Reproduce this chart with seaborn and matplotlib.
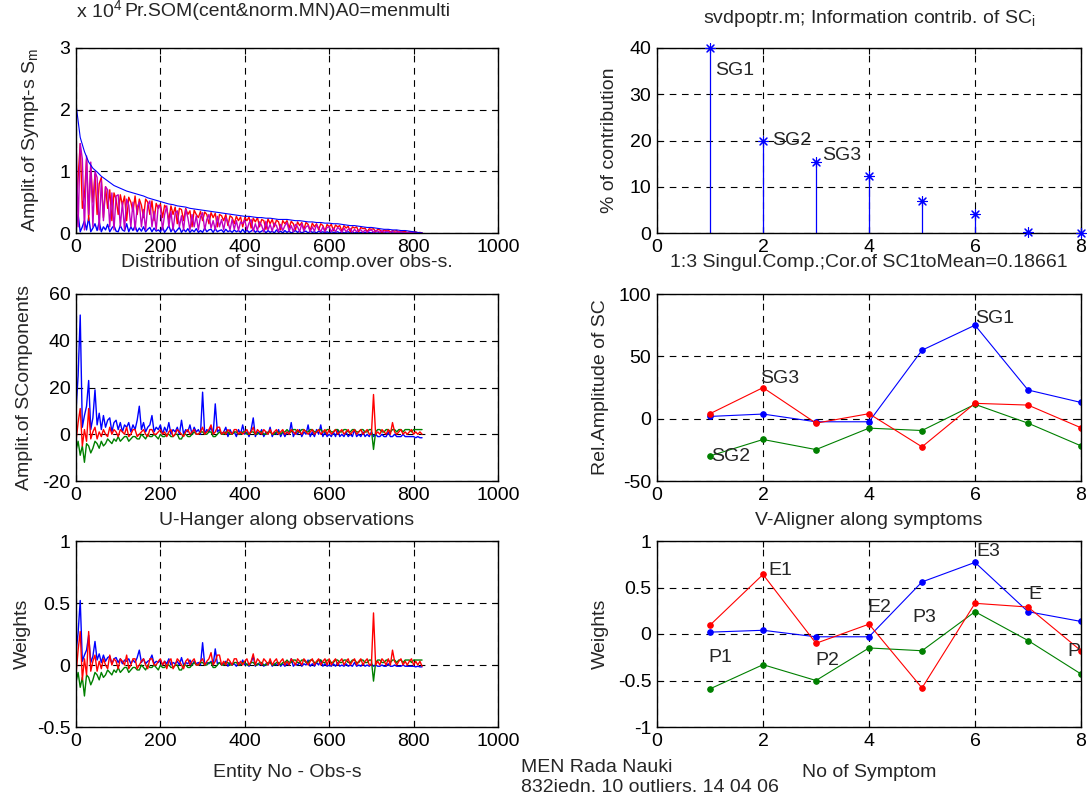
import numpy as np
import matplotlib
matplotlib.use("Agg")
import matplotlib.pyplot as plt
import matplotlib.ticker as mtick
import seaborn as sns

# entity numbers: every 5th observation for the noisy traces,
# every 10th for the smooth envelope
obs = np.arange(0, 825, 5)
obs10 = np.arange(0, 830, 10)

# --- top left: amplitude of symptoms (x 10^4) ---
sympt_env = [2.09, 1.55, 1.32, 1.15, 1.05, 0.99, 0.92, 0.87, 0.82, 0.77,
             0.74, 0.71, 0.68, 0.66, 0.64, 0.62, 0.60, 0.57, 0.55, 0.53,
             0.51, 0.49, 0.47, 0.46, 0.44, 0.43, 0.42, 0.40, 0.39, 0.38,
             0.37, 0.36, 0.35, 0.34, 0.33, 0.32, 0.31, 0.30, 0.29, 0.28,
             0.27, 0.27, 0.26, 0.25, 0.25, 0.24, 0.24, 0.23, 0.22, 0.22,
             0.22, 0.21, 0.20, 0.20, 0.19, 0.18, 0.18, 0.17, 0.17, 0.16,
             0.16, 0.15, 0.15, 0.14, 0.13, 0.12, 0.12, 0.11, 0.10, 0.09,
             0.09, 0.08, 0.07, 0.06, 0.06, 0.05, 0.05, 0.04, 0.04, 0.03,
             0.02, 0.01, 0.00]
sympt_blue = [0.05, 0.30, 0.02, 0.10, 0.20, 0.05, 0.25, 0.02, 0.08, 0.15, 0.04, 0.18, 0.02, 0.10, 0.05, 0.14, 0.02, 0.08, 0.12, 0.03,
              0.02, 0.12, 0.05, 0.03, 0.15, 0.02, 0.10, 0.04, 0.12, 0.02, 0.08, 0.03, 0.10, 0.02, 0.06, 0.09, 0.02, 0.08, 0.03, 0.05,
              0.02, 0.10, 0.01, 0.06, 0.12, 0.02, 0.08, 0.01, 0.05, 0.09, 0.01, 0.06, 0.02, 0.07, 0.01, 0.05, 0.02, 0.07, 0.01, 0.04,
              0.01, 0.08, 0.02, 0.05, 0.06, 0.01, 0.07, 0.02, 0.04, 0.05, 0.01, 0.06, 0.02, 0.04, 0.01, 0.05, 0.02, 0.04, 0.01, 0.06,
              0.01, 0.05, 0.01, 0.03, 0.06, 0.01, 0.04, 0.01, 0.03, 0.05, 0.00, 0.04, 0.01, 0.03, 0.00, 0.05, 0.01, 0.03, 0.00, 0.04,
              0.01, 0.03, 0.00, 0.02, 0.04, 0.01, 0.03, 0.00, 0.02, 0.03, 0.00, 0.03, 0.01, 0.02, 0.00, 0.03, 0.01, 0.02, 0.00, 0.02,
              0.00, 0.02, 0.01, 0.01, 0.02, 0.00, 0.02, 0.00, 0.01, 0.02, 0.00, 0.01, 0.00, 0.01, 0.00, 0.01, 0.00, 0.01, 0.00, 0.01,
              0.00, 0.01, 0.00, 0.00, 0.01, 0.00, 0.01, 0.00, 0.00, 0.01, 0.00, 0.00, 0.00, 0.00, 0.00, 0.00, 0.00, 0.00, 0.00, 0.00,
              0.00, 0.00, 0.00, 0.00, 0.00]
sympt_red = [0.30, 0.90, 1.45, 0.40, 0.60, 1.20, 0.20, 1.10, 0.50, 0.95, 0.30, 0.80, 0.90, 0.25, 0.75, 0.40, 0.70, 0.20, 0.65, 0.55,
             0.30, 0.62, 0.45, 0.60, 0.20, 0.58, 0.50, 0.35, 0.60, 0.30, 0.55, 0.45, 0.25, 0.55, 0.50, 0.30, 0.52, 0.20, 0.48, 0.40,
             0.47, 0.25, 0.45, 0.40, 0.20, 0.44, 0.30, 0.42, 0.15, 0.40, 0.38, 0.20, 0.40, 0.30, 0.36, 0.10, 0.37, 0.30, 0.25, 0.35,
             0.20, 0.34, 0.30, 0.15, 0.33, 0.25, 0.32, 0.10, 0.30, 0.28, 0.20, 0.30, 0.12, 0.28, 0.25, 0.15, 0.27, 0.20, 0.26, 0.10,
             0.25, 0.20, 0.26, 0.08, 0.24, 0.18, 0.25, 0.10, 0.22, 0.20, 0.06, 0.23, 0.15, 0.22, 0.10, 0.21, 0.18, 0.05, 0.20, 0.15,
             0.20, 0.08, 0.19, 0.15, 0.05, 0.18, 0.12, 0.17, 0.06, 0.17, 0.14, 0.04, 0.16, 0.10, 0.15, 0.05, 0.15, 0.12, 0.03, 0.14,
             0.10, 0.14, 0.04, 0.13, 0.10, 0.12, 0.03, 0.12, 0.08, 0.11, 0.02, 0.10, 0.08, 0.10, 0.02, 0.09, 0.07, 0.08, 0.02, 0.07,
             0.06, 0.07, 0.02, 0.06, 0.05, 0.01, 0.05, 0.04, 0.05, 0.01, 0.04, 0.03, 0.04, 0.01, 0.03, 0.02, 0.03, 0.00, 0.02, 0.02,
             0.01, 0.02, 0.00, 0.01, 0.00]
sympt_mag = [1.60, 0.10, 1.45, 1.20, 0.05, 1.25, 0.30, 1.15, 0.10, 1.00, 0.90, 0.05, 0.85, 0.20, 0.75, 0.70, 0.10, 0.65, 0.05, 0.60,
             0.62, 0.10, 0.50, 0.05, 0.55, 0.45, 0.10, 0.50, 0.05, 0.42, 0.50, 0.10, 0.38, 0.05, 0.45, 0.52, 0.10, 0.35, 0.05, 0.45,
             0.42, 0.05, 0.30, 0.44, 0.10, 0.35, 0.05, 0.32, 0.36, 0.10, 0.28, 0.05, 0.38, 0.25, 0.05, 0.30, 0.10, 0.28, 0.05, 0.26,
             0.33, 0.05, 0.22, 0.30, 0.08, 0.20, 0.05, 0.27, 0.10, 0.22, 0.05, 0.25, 0.18, 0.05, 0.22, 0.06, 0.20, 0.04, 0.18, 0.15,
             0.21, 0.05, 0.16, 0.22, 0.03, 0.15, 0.04, 0.18, 0.12, 0.02, 0.19, 0.05, 0.14, 0.03, 0.16, 0.12, 0.02, 0.14, 0.04, 0.12,
             0.17, 0.03, 0.12, 0.02, 0.14, 0.10, 0.02, 0.15, 0.03, 0.10, 0.12, 0.02, 0.10, 0.03, 0.13, 0.08, 0.02, 0.10, 0.02, 0.09,
             0.10, 0.02, 0.08, 0.02, 0.09, 0.06, 0.01, 0.08, 0.02, 0.06, 0.07, 0.01, 0.06, 0.02, 0.05, 0.05, 0.01, 0.05, 0.01, 0.04,
             0.05, 0.01, 0.04, 0.03, 0.01, 0.04, 0.01, 0.03, 0.02, 0.01, 0.03, 0.00, 0.02, 0.01, 0.02, 0.01, 0.00, 0.01, 0.00, 0.01,
             0.01, 0.00, 0.00, 0.00, 0.00]

# --- middle left: singular components over observations ---
sc_blue = [10, 25, 51, 3, 8, 12, 23, 2, 7, 19, 4, 9, 2, 8, 3, 6, 7, 1, 5, 6,
           2, 5, 1, 4, 3, 5, 1, 4, 2, 6, 12, 2, 5, 1, 3, 4, 8, 1, 3, 2,
           4, 0, 3, 1, 5, 0, 2, 1, 3, 0, 6, 0, 2, 1, 4, 0, 3, 1, 2, 0,
           18, 0, 2, 1, 3, 0, 13, 1, 2, 0, 1, 3, -1, 2, 0, 1, -1, 2, 0, 4,
           0, 1, -1, 2, 7, -1, 1, 0, 2, -1, 1, 0, 3, -1, 1, 0, 2, -1, 1, -1,
           1, 0, 5, -1, 1, 0, 2, -1, 1, 0, 4, -1, 1, -1, 2, 0, 4, -1, 1, -1,
           0, -1, 1, -1, 2, -1, 0, -1, 1, -1, 0, -1, 2, -1, 0, -1, 1, -1, 0, -1,
           1, -1, 0, -1, -1, 0, -1, -1, 1, -1, -1, 0, -1, -1, -1, 0, -1, -1, -1, -1,
           -1, -1.5, -1, -1.5, -1.5]
sc_green = [-7, -3, -9, -5, -12, -4, -5, -8, -6, -3, -4, -6, -3, -5, -4, -2, -3, -4, -2, -3,
            -1, -3, -2, -1, -1, -3, -2, -1, -1, -2, -2, 0, -1, -2, 0, -1, -1, 0, -1, -2,
            0, -1, -1, 0, 0, -1, -1, 0, 0, -2, -2, 0, 0, -1, -1, 0, 1, 0, 0, 1,
            1, 0, 0, 1, 1, -1, -1, 0, 1, 0, 0, 1, 1, 0, 0, 1, 1, 0, 0, 1,
            1, 0, 0, 1, 1, 0, 0, 1, 1, 0, 0, 1, 1, 0, 0, 1, 1, 0, 1, 1,
            2, 1, 1, 2, 2, 1, 1, 2, 2, 1, 1, 2, 2, 1, 1, 2, 2, 1, 1, 2,
            2, 1, 1, 2, 2, 1, 1, 2, 2, 1, 1, 2, 2, 1, 1, 2, 2, 1, 1, 2,
            2, -6.5, 1, 2, 2, 1, 1, 2, 2, 1, 2, 2, 1, 2, 2, 1, 2, 2, 2, 1,
            2, 2, 2, 2, 2]
sc_red = [-3, 5, 11, -5, 2, -3, 11, -2, 1, 3, -2, 1, -1, 2, 0, -1, 3, 0, 2, 1,
          -1, 2, 1, 0, 3, -1, 0, 2, 2, -1, 0, 1, 2, 0, -1, 2, 2, 0, 0, 1,
          2, 0, 1, -1, 1, 2, -1, 0, 2, 1, 0, -1, 1, 2, 0, 1, 2, 0, 0, 1,
          3, 0, 1, 2, 4, 0, 1, 3, 3, 0, 1, 0, 2, 1, 0, 2, 2, 0, 1, 0,
          1, 2, 0, 1, 3, 0, 2, 1, 0, 2, 1, 0, 2, 0, 1, 2, 0, 1, 2, 0,
          1, 0, 2, 1, 0, 2, 1, 0, 2, 1, 0, 1, 2, 0, 1, 2, 0, 1, 2, 0,
          2, 0, 1, 2, 0, 1, 2, 0, 1, 2, 0, 1, 2, 0, 1, 2, 0, 1, 2, 0,
          0, 17, 0, 1, 0, 2, 1, 0, 2, 0, 5, 1, 0, 1, 2, 0, 1, 0, 1, 2,
          0, 1, 0, 1, 0]

# --- bottom left: U-hanger weights ---
w_blue = [0.10, 0.26, 0.52, 0.03, 0.08, 0.12, 0.24, 0.02, 0.07, 0.19, 0.04, 0.09, 0.02, 0.08, 0.03, 0.06, 0.07, 0.01, 0.05, 0.06,
          0.02, 0.05, 0.01, 0.04, 0.03, 0.05, 0.01, 0.04, 0.02, 0.06, 0.12, 0.02, 0.05, 0.01, 0.03, 0.04, 0.08, 0.01, 0.03, 0.02,
          0.04, 0.00, 0.03, 0.01, 0.05, 0.00, 0.02, 0.01, 0.03, 0.00, 0.06, 0.00, 0.02, 0.01, 0.04, 0.00, 0.03, 0.01, 0.02, 0.00,
          0.18, 0.00, 0.02, 0.01, 0.03, 0.00, 0.13, 0.01, 0.02, 0.00, 0.01, 0.03, -0.01, 0.02, 0.00, 0.01, -0.01, 0.02, 0.00, 0.04,
          0.00, 0.01, -0.01, 0.02, 0.07, -0.01, 0.01, 0.00, 0.02, -0.01, 0.01, 0.00, 0.03, -0.01, 0.01, 0.00, 0.02, -0.01, 0.01, -0.01,
          0.01, 0.00, 0.05, -0.01, 0.01, 0.00, 0.02, -0.01, 0.01, 0.00, 0.04, -0.01, 0.01, -0.01, 0.02, 0.00, 0.04, -0.01, 0.01, -0.01,
          0.00, -0.01, 0.01, -0.01, 0.02, -0.01, 0.00, -0.01, 0.01, -0.01, 0.00, -0.01, 0.02, -0.01, 0.00, -0.01, 0.01, -0.01, 0.00, -0.01,
          0.01, -0.01, 0.00, -0.01, -0.01, 0.00, -0.01, -0.01, 0.01, -0.01, -0.01, 0.00, -0.01, -0.01, -0.01, 0.00, -0.01, -0.01, -0.01, -0.01,
          -0.01, -0.015, -0.01, -0.015, -0.015]
w_green = [-0.14, -0.06, -0.18, -0.10, -0.25, -0.08, -0.10, -0.16, -0.12, -0.06, -0.08, -0.12, -0.06, -0.10, -0.08, -0.04, -0.06, -0.08, -0.04, -0.06,
           -0.02, -0.06, -0.04, -0.02, -0.02, -0.06, -0.04, -0.02, -0.02, -0.04, -0.04, 0.00, -0.02, -0.04, 0.00, -0.02, -0.02, 0.00, -0.02, -0.04,
           0.00, -0.02, -0.02, 0.00, 0.00, -0.02, -0.02, 0.00, 0.00, -0.04, -0.04, 0.00, 0.00, -0.02, -0.02, 0.00, 0.02, 0.00, 0.00, 0.02,
           0.02, 0.00, 0.00, 0.02, 0.02, -0.02, -0.02, 0.00, 0.02, 0.00, 0.00, 0.02, 0.02, 0.00, 0.00, 0.02, 0.02, 0.00, 0.00, 0.02,
           0.02, 0.00, 0.00, 0.02, 0.02, 0.00, 0.00, 0.02, 0.02, 0.00, 0.00, 0.02, 0.02, 0.00, 0.00, 0.02, 0.02, 0.00, 0.02, 0.02,
           0.04, 0.02, 0.02, 0.04, 0.04, 0.02, 0.02, 0.04, 0.04, 0.02, 0.02, 0.04, 0.04, 0.02, 0.02, 0.04, 0.04, 0.02, 0.02, 0.04,
           0.04, 0.02, 0.02, 0.04, 0.04, 0.02, 0.02, 0.04, 0.04, 0.02, 0.02, 0.04, 0.04, 0.02, 0.02, 0.04, 0.04, 0.02, 0.02, 0.04,
           0.04, -0.13, 0.02, 0.04, 0.04, 0.02, 0.02, 0.04, 0.04, 0.02, 0.04, 0.04, 0.02, 0.04, 0.04, 0.02, 0.04, 0.04, 0.04, 0.02,
           0.04, 0.04, 0.04, 0.04, 0.04]
w_red = [-0.08, 0.12, 0.27, -0.12, 0.05, -0.08, 0.27, -0.05, 0.03, 0.08, -0.05, 0.03, -0.03, 0.05, 0.00, -0.03, 0.08, 0.00, 0.05, 0.03,
         -0.03, 0.05, 0.03, 0.00, 0.08, -0.03, 0.00, 0.05, 0.05, -0.03, 0.00, 0.03, 0.05, 0.00, -0.03, 0.05, 0.05, 0.00, 0.00, 0.03,
         0.05, 0.00, 0.03, -0.03, 0.03, 0.05, -0.03, 0.00, 0.05, 0.03, 0.00, -0.03, 0.03, 0.05, 0.00, 0.03, 0.05, 0.00, 0.00, 0.03,
         0.05, 0.00, 0.03, 0.05, 0.10, 0.00, 0.03, 0.08, 0.08, 0.00, 0.03, 0.00, 0.05, 0.03, 0.00, 0.05, 0.05, 0.00, 0.03, 0.00,
         0.03, 0.05, 0.00, 0.03, 0.09, 0.00, 0.05, 0.03, 0.00, 0.05, 0.03, 0.00, 0.05, 0.00, 0.03, 0.05, 0.00, 0.03, 0.05, 0.00,
         0.03, 0.00, 0.05, 0.03, 0.00, 0.05, 0.03, 0.00, 0.05, 0.03, 0.00, 0.03, 0.05, 0.00, 0.03, 0.05, 0.00, 0.03, 0.05, 0.00,
         0.05, 0.00, 0.03, 0.05, 0.00, 0.03, 0.05, 0.00, 0.03, 0.05, 0.00, 0.03, 0.05, 0.00, 0.03, 0.05, 0.00, 0.03, 0.05, 0.00,
         0.00, 0.42, 0.00, 0.03, 0.00, 0.05, 0.03, 0.00, 0.05, 0.00, 0.12, 0.03, 0.00, 0.03, 0.05, 0.00, 0.03, 0.00, 0.03, 0.05,
         0.00, 0.03, 0.00, 0.03, -0.01]

# --- right column: per symptom ---
symptoms = [1, 2, 3, 4, 5, 6, 7, 8]
contrib = [40.0, 20.0, 15.4, 12.3, 7.0, 4.2, 0.15, 0.0]

rel_sc1 = [1.8, 3.7, -2.5, -2.5, 54.9, 75.0, 23.0, 13.0]
rel_sc2 = [-29.9, -16.7, -24.8, -7.6, -9.5, 11.5, -3.6, -21.8]
rel_sc3 = [4.0, 24.9, -3.6, 4.0, -22.6, 12.3, 10.9, -7.3]

v_sc1 = [0.02, 0.04, -0.03, -0.03, 0.56, 0.77, 0.24, 0.135]
v_sc2 = [-0.59, -0.33, -0.50, -0.15, -0.18, 0.24, -0.07, -0.43]
v_sc3 = [0.095, 0.64, -0.10, 0.106, -0.58, 0.33, 0.29, -0.18]

BLUE = "#0000ff"
GREEN = "#008000"
RED = "#ff0000"
MAG = "#c000c0"
FS = 14

sns.set_style("white")
plt.rcParams["font.family"] = ["Liberation Sans", "DejaVu Sans"]
plt.rcParams["axes.unicode_minus"] = False
plt.rcParams["font.size"] = FS

fig = plt.figure(figsize=(10.88, 7.96), dpi=100)
W, H = 1088, 796


def make_ax(x0, x1, y0, y1):
    return fig.add_axes([x0 / W, 1 - y1 / H, (x1 - x0) / W, (y1 - y0) / H])


def style(ax, xlim, xticks, ylim, yticks):
    ax.set_xlim(*xlim)
    ax.set_ylim(*ylim)
    ax.set_xticks(xticks)
    ax.set_yticks(yticks)
    fmt = mtick.FuncFormatter(lambda v, p: f"{v:g}")
    ax.xaxis.set_major_formatter(fmt)
    ax.yaxis.set_major_formatter(fmt)
    ax.grid(True, color="k", linestyle=(0, (6, 5)), linewidth=0.8)
    ax.tick_params(direction="in", length=4, width=0.8, labelsize=FS,
                   top=True, right=True, bottom=True, left=True, pad=4,
                   colors="k")
    for s in ax.spines.values():
        s.set_color("k")
        s.set_linewidth(1.0)


def line(ax, x, y, color, lw=1.0, **kw):
    sns.lineplot(x=x, y=y, ax=ax, color=color, linewidth=lw,
                 estimator=None, sort=False, **kw)


def dots(ax, y, color):
    line(ax, symptoms, y, color, lw=0.8, marker="o", markersize=4,
         markeredgecolor=color)


ax1 = make_ax(76, 498, 48, 233)
ax2 = make_ax(657, 1081, 48, 233)
ax3 = make_ax(76, 498, 294, 481)
ax4 = make_ax(657, 1081, 294, 481)
ax5 = make_ax(76, 498, 541, 727)
ax6 = make_ax(657, 1081, 541, 727)

# top left
line(ax1, obs, sympt_blue, BLUE)
line(ax1, obs, sympt_red, RED)
line(ax1, obs, sympt_mag, MAG)
line(ax1, obs10, sympt_env, BLUE, lw=0.8)
style(ax1, (0, 1000), range(0, 1001, 200), (0, 3), [0, 1, 2, 3])
ax1.set_title("Pr.SOM(cent&norm.MN)A0=menmulti", y=1.195, va="center",
              pad=0, fontsize=FS)
ax1.text(0.0, 1.2, r"x 10$^\mathregular{4}$", transform=ax1.transAxes,
         ha="left", va="center", fontsize=FS)
ax1.set_ylabel(r"Amplit.of Sympt-s S$_\mathregular{m}$", va="center")
ax1.yaxis.set_label_coords(-0.109, 0.5)

# top right: stem of contributions
ax2.vlines(symptoms, 0, contrib, color=BLUE, linewidth=0.9)
sns.scatterplot(x=symptoms, y=contrib, ax=ax2, marker=(8, 2, 0), s=50,
                color=BLUE, linewidth=0.8, edgecolor=BLUE, clip_on=False,
                zorder=3)
style(ax2, (0, 8), [0, 2, 4, 6, 8], (0, 40), [0, 10, 20, 30, 40])
ax2.set_title(r"svdpoptr.m; Information contrib. of SC$_\mathregular{i}$",
              y=1.162, va="center", pad=0, fontsize=FS)
ax2.set_ylabel("% of contribution", va="center")
ax2.yaxis.set_label_coords(-0.111, 0.5)
for (tx, ty, s) in [(1.1, 35.1, "SG1"), (2.17, 20.1, "SG2"), (3.12, 16.7, "SG3")]:
    ax2.text(tx, ty, s, ha="left", va="center", fontsize=FS)

# middle left
line(ax3, obs, sc_blue, BLUE)
line(ax3, obs, sc_green, GREEN)
line(ax3, obs, sc_red, RED)
style(ax3, (0, 1000), range(0, 1001, 200), (-20, 60), [-20, 0, 20, 40, 60])
ax3.set_title("Distribution of singul.comp.over obs-s.", y=1.166,
              va="center", pad=0, fontsize=FS)
ax3.set_ylabel("Amplit.of SComponents", va="center")
ax3.yaxis.set_label_coords(-0.123, 0.5)

# middle right
dots(ax4, rel_sc1, BLUE)
dots(ax4, rel_sc2, GREEN)
dots(ax4, rel_sc3, RED)
style(ax4, (0, 8), [0, 2, 4, 6, 8], (-50, 100), [-50, 0, 50, 100])
ax4.set_title("1:3 Singul.Comp.;Cor.of SC1toMean=0.18661", y=1.166,
              va="center", pad=0, fontsize=FS)
ax4.set_ylabel("Rel.Amplitude of SC", va="center")
ax4.yaxis.set_label_coords(-0.134, 0.5)
for (tx, ty, s) in [(6.0, 80, "SG1"), (1.95, 32.4, "SG3"), (1.02, -30.7, "SG2")]:
    ax4.text(tx, ty, s, ha="left", va="center", fontsize=FS)

# bottom left
line(ax5, obs, w_blue, BLUE)
line(ax5, obs, w_green, GREEN)
line(ax5, obs, w_red, RED)
style(ax5, (0, 1000), range(0, 1001, 200), (-0.5, 1), [-0.5, 0, 0.5, 1])
ax5.set_title("U-Hanger along observations", y=1.108, va="center", pad=0,
              fontsize=FS)
ax5.set_ylabel("Weights", va="center")
ax5.yaxis.set_label_coords(-0.128, 0.5)
ax5.set_xlabel("Entity No - Obs-s", va="center")
ax5.xaxis.set_label_coords(0.5, -0.247)

# bottom right
dots(ax6, v_sc1, BLUE)
dots(ax6, v_sc2, GREEN)
dots(ax6, v_sc3, RED)
style(ax6, (0, 8), [0, 2, 4, 6, 8], (-1, 1), [-1, -0.5, 0, 0.5, 1])
ax6.set_title("V-Aligner along symptoms", y=1.108, va="center", pad=0,
              fontsize=FS)
ax6.set_ylabel("Weights", va="center")
ax6.yaxis.set_label_coords(-0.134, 0.5)
ax6.set_xlabel("No of Symptom", va="center")
ax6.xaxis.set_label_coords(0.5, -0.247)
for (tx, ty, s) in [(2.1, 0.68, "E1"), (3.97, 0.29, "E2"), (4.82, 0.18, "P3"),
                    (6.03, 0.89, "E3"), (7.0, 0.42, "E"), (7.74, -0.19, "P"),
                    (0.96, -0.25, "P1"), (2.99, -0.29, "P2")]:
    ax6.text(tx, ty, s, ha="left", va="center", fontsize=FS)

fig.text(521 / W, 1 - 767 / H, "MEN Rada Nauki", ha="left", va="center",
         fontsize=FS)
fig.text(521 / W, 1 - 788 / H, "832iedn. 10 outliers. 14 04 06", ha="left",
         va="center", fontsize=FS)

fig.savefig("out.png", dpi=100)
